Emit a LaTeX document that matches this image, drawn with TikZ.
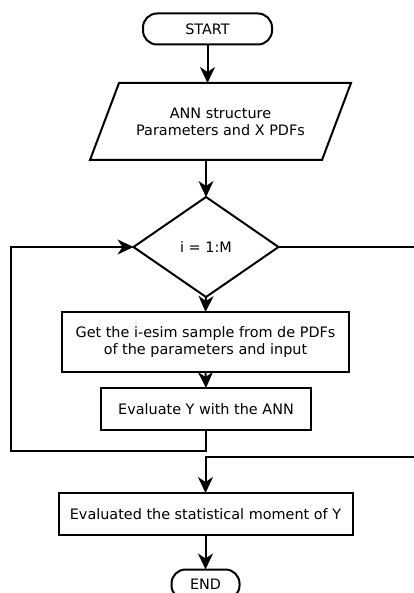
\documentclass[tikz,border=0pt]{standalone}
\usepackage{fontspec}
\setmainfont{DejaVu Sans}
\usetikzlibrary{shapes.geometric,arrows.meta,calc}
\begin{document}
\begin{tikzpicture}[x=1pt,y=-1pt,
  every node/.style={font=\fontsize{14.4}{17}\selectfont, outer sep=0pt, inner sep=0pt, align=center},
  lw/.style={line width=2pt},
  term/.style={lw, draw, rectangle, rounded corners=14pt},
  proc/.style={lw, draw, rectangle},
  dec/.style={lw, draw, diamond},
  arr/.style={lw, -{Stealth[length=16pt,width=15pt,inset=5pt]}},
  conn/.style={lw}
]
\useasboundingbox (0,0) rectangle (414,593);
\fill[white] (0,0) rectangle (414,593);

\node[term, minimum width=129pt, minimum height=31pt] (start) at (207.5,29) {START};

% parallelogram
\node[minimum width=232pt, minimum height=77pt] (para) at (220.5,121.5) {ANN structure\\Parameters and X PDFs};
\draw[lw, line join=miter] (119,83) -- (351,83) -- (322,160) -- (90,160) -- cycle;
\coordinate (paratop) at (207.5,83);
\coordinate (parabot) at (206,160);

\node[dec, minimum width=145pt, minimum height=100pt] (dia) at (206,247) {i = 1:M};

\node[proc, minimum width=287pt, minimum height=60pt] (b1) at (205.5,342) {Get the i-esim sample from de PDFs\\of the parameters and input};
\node[proc, minimum width=210pt, minimum height=42pt] (b2) at (206,409) {Evaluate Y with the ANN};
\node[proc, minimum width=294pt, minimum height=42pt] (b3) at (205.5,514) {Evaluated the statistical moment of Y};

\node[term, minimum width=68pt, minimum height=30pt] (end) at (205.5,584.5) {END};

\draw[arr] (start.south) -- (paratop);
\draw[arr] (parabot) -- (dia.north);
\draw[arr] (dia.south) -- (b1.north);
\draw[arr] (b1.south) -- (b2.north);
\draw[arr] (b3.south) -- (end.north);

\coordinate (ll) at (11,451);
\draw[arr] (b2.south) |- (ll) |- (dia.west);

\coordinate (rt) at (425,247);
\coordinate (rb) at (425,457);
\draw[arr] (dia.east) -- (rt) -- (rb) -| (b3.north);
\end{tikzpicture}
\end{document}
